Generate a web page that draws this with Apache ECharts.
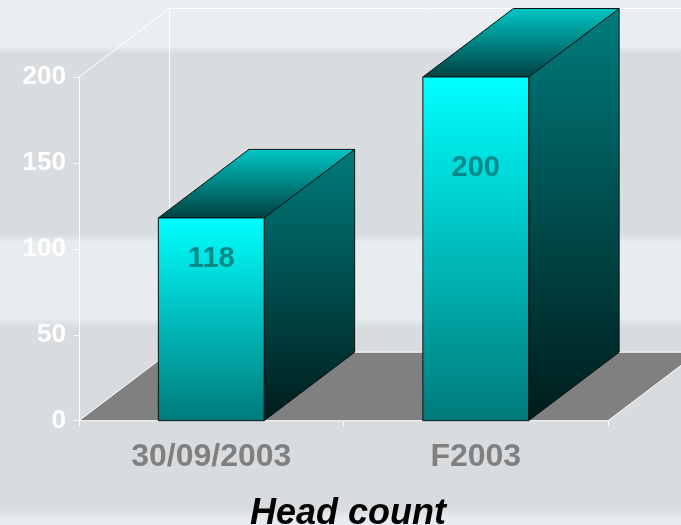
<!DOCTYPE html>
<html>
<head>
<meta charset="utf-8">
<script src="https://cdn.jsdelivr.net/npm/echarts@6/dist/echarts.min.js"></script>
<style>
  html, body { margin: 0; padding: 0; }
  #chart { width: 681px; height: 525px; }
</style>
</head>
<body>
<div id="chart"></div>
<script>
// Head count per period
const categories = ['30/09/2003', 'F2003'];
const headCount = [118, 200];

// Value axis range
const yMin = 0;
const yMax = 200;
const yStep = 50;

// Pseudo-3D look: depth offset of the box faces and walls (px)
const DEPTH_X = 90.5;
const DEPTH_Y = -68.5;
// Value labels sit this far below each bar's top edge (px)
const labelDrop = [41.5, 90.5];

const FONT = '"Liberation Sans", Arial, Helvetica, sans-serif';

const chart = echarts.init(document.getElementById('chart'), null, { renderer: 'canvas' });

const lg = (x, y, x2, y2, stops) => new echarts.graphic.LinearGradient(x, y, x2, y2, stops);

// Slide background: soft horizontal bands
const background = lg(0, 0, 0, 1, [
  { offset: 0.000, color: '#ebeef1' },
  { offset: 0.088, color: '#ebeef1' },
  { offset: 0.102, color: '#d9dcdf' },
  { offset: 0.445, color: '#d9dcdf' },
  { offset: 0.462, color: '#e9ecee' },
  { offset: 0.605, color: '#e9ecee' },
  { offset: 0.625, color: '#d9dcdf' },
  { offset: 0.970, color: '#d9dcdf' },
  { offset: 0.988, color: '#e9ecef' },
  { offset: 1.000, color: '#e9ecef' }
]);

// Floor and wall outlines of the 3D plot box
function renderFrame(params) {
  const cs = params.coordSys;
  const x0 = cs.x, x1 = cs.x + cs.width;
  const yt = cs.y, yb = cs.y + cs.height;
  const dx = DEPTH_X, dy = DEPTH_Y;
  const line = (a, b) => ({
    type: 'line',
    shape: { x1: a[0], y1: a[1], x2: b[0], y2: b[1] },
    style: { stroke: '#ffffff', lineWidth: 1 }
  });
  return {
    type: 'group',
    children: [
      {
        type: 'polygon',
        shape: { points: [[x0, yb], [x1, yb], [x1 + dx, yb + dy], [x0 + dx, yb + dy]] },
        style: { fill: '#808080' }
      },
      line([x0, yb], [x0 + dx, yb + dy]),
      line([x1, yb], [x1 + dx, yb + dy]),
      line([x0 + dx, yb + dy], [x1 + dx, yb + dy]),
      line([x0 + dx, yt + dy], [x0 + dx, yb + dy]),
      line([x0 + dx, yt + dy], [x1 + dx + 200, yt + dy]),
      line([x0, yt], [x0 + dx, yt + dy]),
      line([x0, yb], [x1, yb])
    ]
  };
}

// One 3D box per category, sized from the axis scales
function renderBox(params, api) {
  const idx = api.value(0);
  const val = api.value(1);
  const base = api.coord([idx, 0]);
  const top = api.coord([idx, val]);
  const bw = api.size([1, 0])[0] * 0.4;
  const xl = base[0] - bw / 2;
  const xr = base[0] + bw / 2;
  const yt = top[1];
  const yb = base[1];
  const dx = DEPTH_X, dy = DEPTH_Y;
  const edge = { stroke: '#0a1414', lineWidth: 1 };
  return {
    type: 'group',
    children: [
      {
        type: 'polygon',
        shape: { points: [[xr, yt], [xr + dx, yt + dy], [xr + dx, yb + dy], [xr, yb]] },
        style: Object.assign({
          fill: lg(0, 0, 0, 1, [
            { offset: 0, color: '#007c7c' },
            { offset: 1, color: '#001c1c' }
          ])
        }, edge)
      },
      {
        type: 'polygon',
        shape: { points: [[xl, yt], [xl + dx, yt + dy], [xr + dx, yt + dy], [xr, yt]] },
        style: Object.assign({
          fill: lg(0, 0, 0, 1, [
            { offset: 0, color: '#00c6c6' },
            { offset: 1, color: '#004040' }
          ])
        }, edge)
      },
      {
        type: 'rect',
        shape: { x: xl, y: yt, width: bw, height: yb - yt },
        style: Object.assign({
          fill: lg(0, 0, 0, 1, [
            { offset: 0, color: '#00ffff' },
            { offset: 1, color: '#007a7a' }
          ])
        }, edge)
      },
      {
        type: 'text',
        x: base[0],
        y: yt + labelDrop[params.dataIndex],
        style: {
          text: String(val),
          fill: '#008a8a',
          font: 'bold 29px ' + FONT,
          align: 'center',
          verticalAlign: 'middle'
        }
      }
    ]
  };
}

chart.setOption({
  animation: false,
  graphic: [{
    type: 'rect',
    z: -100,
    silent: true,
    shape: { x: 0, y: 0, width: 681, height: 525 },
    style: { fill: background }
  }],
  title: {
    text: 'Head count',
    left: 343,
    textAlign: 'center',
    top: 491,
    textStyle: {
      fontFamily: FONT,
      fontSize: 36,
      fontWeight: 'bold',
      fontStyle: 'italic',
      color: '#000000'
    }
  },
  grid: { left: 79, right: 73, top: 77, bottom: 104.3, containLabel: false },
  xAxis: {
    type: 'category',
    data: categories,
    boundaryGap: true,
    axisLine: { show: false },
    axisTick: { show: true, length: 6, lineStyle: { color: '#ffffff' } },
    axisLabel: {
      margin: 20,
      color: '#808080',
      fontFamily: FONT,
      fontSize: 32,
      fontWeight: 'bold'
    },
    splitLine: { show: false }
  },
  yAxis: {
    type: 'value',
    min: yMin,
    max: yMax,
    interval: yStep,
    axisLine: { show: true, lineStyle: { color: '#ffffff', width: 1 } },
    axisTick: { show: true, length: 5, lineStyle: { color: '#ffffff' } },
    axisLabel: {
      margin: 13,
      color: '#ffffff',
      fontFamily: FONT,
      fontSize: 26,
      fontWeight: 'bold'
    },
    splitLine: { show: false }
  },
  series: [
    {
      type: 'custom',
      silent: true,
      z: 1,
      data: [[0, 0]],
      renderItem: renderFrame
    },
    {
      type: 'custom',
      z: 3,
      data: headCount.map((v, i) => [i, v]),
      encode: { x: 0, y: 1 },
      renderItem: renderBox
    }
  ]
});
</script>
</body>
</html>
